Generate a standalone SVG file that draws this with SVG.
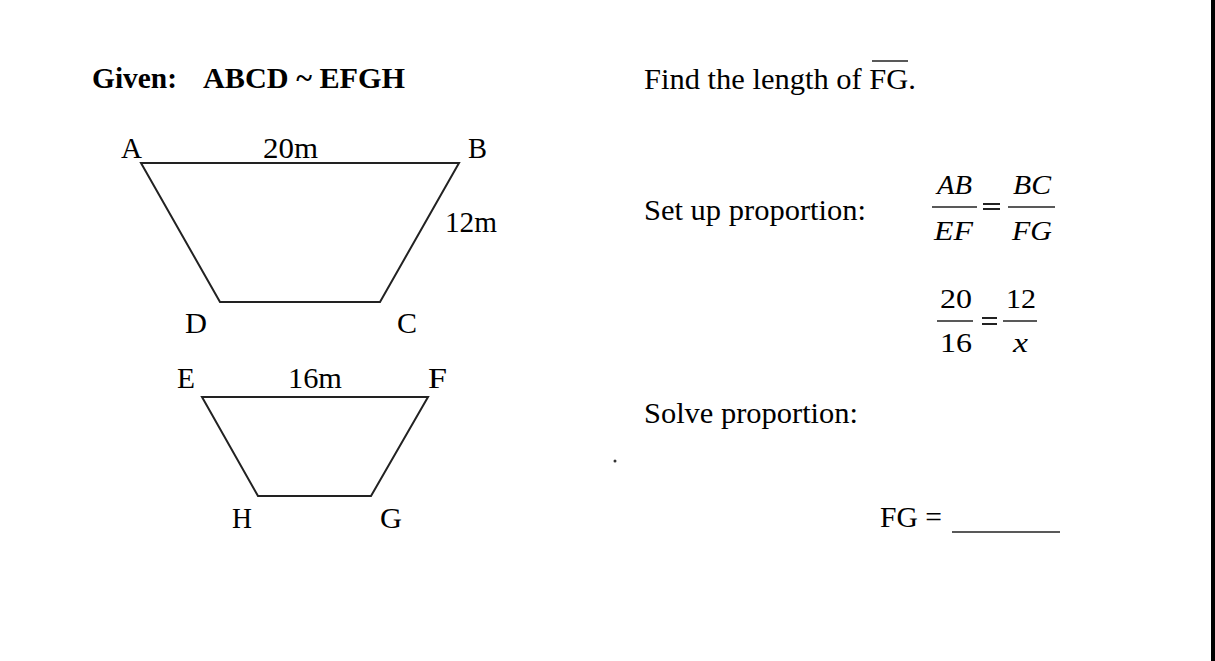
<svg xmlns="http://www.w3.org/2000/svg" width="1215" height="661" viewBox="0 0 1215 661">
<style>
text{font-family:"Liberation Serif","Times New Roman",serif;fill:#000;font-size:29px}
.b{font-weight:bold}
.i{font-style:italic;font-size:27px}
.n{font-size:27px}
.shape{fill:none;stroke:#222;stroke-width:2;stroke-linejoin:miter}
.bar{stroke:#222;stroke-width:1.4}
.eq{stroke:#222;stroke-width:2}
</style>
<rect x="0" y="0" width="1215" height="661" fill="#fff"/>
<rect x="1211" y="0" width="4" height="661" fill="#000"/>
<g id="title">
<text class="b" x="92" y="88" textLength="85" lengthAdjust="spacingAndGlyphs">Given:</text>
<text class="b" x="203" y="88" textLength="202" lengthAdjust="spacingAndGlyphs">ABCD ~ EFGH</text>
</g>
<g id="trapezoid-ABCD">
<polygon class="shape" points="141,163 459,163 380,302 220,302"/>
<text x="121" y="158" textLength="21" lengthAdjust="spacingAndGlyphs">A</text>
<text x="263" y="158" textLength="55" lengthAdjust="spacingAndGlyphs">20m</text>
<text x="468" y="158" textLength="19" lengthAdjust="spacingAndGlyphs">B</text>
<text x="445" y="232" textLength="52" lengthAdjust="spacingAndGlyphs">12m</text>
<text x="185" y="333" textLength="22" lengthAdjust="spacingAndGlyphs">D</text>
<text x="397" y="333" textLength="20" lengthAdjust="spacingAndGlyphs">C</text>
</g>
<g id="trapezoid-EFGH">
<polygon class="shape" points="202,397 428,397 371,496 258,496"/>
<text x="177" y="388" textLength="18" lengthAdjust="spacingAndGlyphs">E</text>
<text x="288" y="388" textLength="54" lengthAdjust="spacingAndGlyphs">16m</text>
<text x="428" y="388" textLength="19" lengthAdjust="spacingAndGlyphs">F</text>
<text x="232" y="528" textLength="20" lengthAdjust="spacingAndGlyphs">H</text>
<text x="380" y="528" textLength="22" lengthAdjust="spacingAndGlyphs">G</text>
</g>
<g id="question">
<text x="644" y="89" textLength="272" lengthAdjust="spacingAndGlyphs">Find the length of FG.</text>
<line class="bar" x1="872" y1="61" x2="908" y2="61"/>
</g>
<g id="setup">
<text x="644" y="220" textLength="222" lengthAdjust="spacingAndGlyphs">Set up proportion:</text>
<text class="i" x="937" y="194" textLength="35" lengthAdjust="spacingAndGlyphs">AB</text>
<line class="bar" x1="932" y1="207" x2="977" y2="207"/>
<text class="i" x="934" y="240" textLength="39" lengthAdjust="spacingAndGlyphs">EF</text>
<line class="eq" x1="983" y1="204" x2="1000" y2="204"/>
<line class="eq" x1="983" y1="209" x2="1000" y2="209"/>
<text class="i" x="1013" y="194" textLength="38" lengthAdjust="spacingAndGlyphs">BC</text>
<line class="bar" x1="1008" y1="207" x2="1055" y2="207"/>
<text class="i" x="1012" y="240" textLength="40" lengthAdjust="spacingAndGlyphs">FG</text>
</g>
<g id="numeric">
<text class="n" x="940" y="308" textLength="32" lengthAdjust="spacingAndGlyphs">20</text>
<line class="bar" x1="937" y1="321" x2="973" y2="321"/>
<text class="n" x="940" y="352" textLength="32" lengthAdjust="spacingAndGlyphs">16</text>
<line class="eq" x1="982" y1="318" x2="997" y2="318"/>
<line class="eq" x1="982" y1="324" x2="997" y2="324"/>
<text class="n" x="1006" y="308" textLength="30" lengthAdjust="spacingAndGlyphs">12</text>
<line class="bar" x1="1003" y1="321" x2="1037" y2="321"/>
<text class="i" x="1013" y="352" textLength="15" lengthAdjust="spacingAndGlyphs">x</text>
</g>
<g id="solve">
<text x="644" y="423" textLength="214" lengthAdjust="spacingAndGlyphs">Solve proportion:</text>
<circle cx="615" cy="461" r="1.5" fill="#333"/>
</g>
<g id="answer">
<text x="880" y="527" textLength="62" lengthAdjust="spacingAndGlyphs">FG =</text>
<line class="bar" x1="952" y1="532" x2="1060" y2="532"/>
</g>
</svg>
